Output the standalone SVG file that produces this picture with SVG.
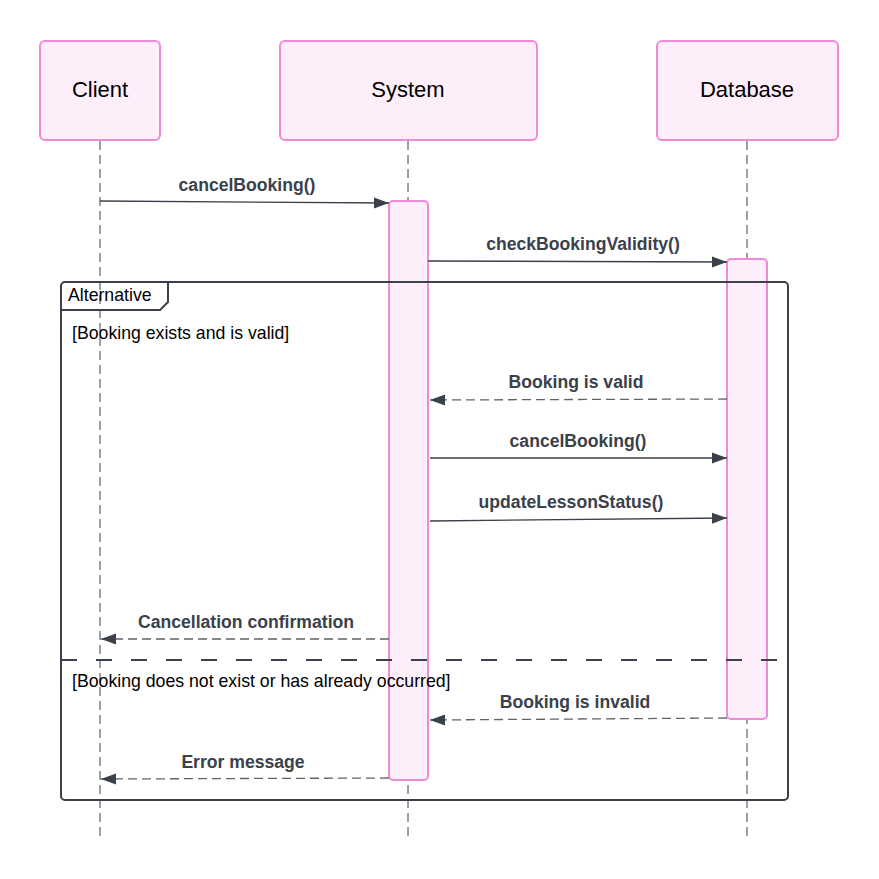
<svg xmlns="http://www.w3.org/2000/svg" width="879" height="879" viewBox="0 0 879 879">
<style>
.bg{fill:#ffffff}
.actor{fill:#fdeef9;stroke:#ee8ad8;stroke-width:2}
.act{fill:#fdeef9;stroke:#ee8ad8;stroke-width:2}
.life{stroke:#3a414a;stroke-width:1;stroke-dasharray:9 5;fill:none}
.title{font-family:"Liberation Sans",Arial,sans-serif;font-size:22px;fill:#000000;text-anchor:middle}
.lbl{font-family:"Liberation Sans",Arial,sans-serif;font-size:17.6px;font-weight:bold;fill:#3a414a;text-anchor:middle}
.guard{font-family:"Liberation Sans",Arial,sans-serif;font-size:17.7px;fill:#000000}
.msg{stroke:#3a414a;stroke-width:1.3;fill:none}
.ret{stroke:#5f646c;stroke-width:1.3;stroke-dasharray:9 5;fill:none}
.frame{fill:none;stroke:#3a414a;stroke-width:2}
.sep{stroke:#3a414a;stroke-width:2;stroke-dasharray:16 19;fill:none}
</style>
<defs>
<marker id="ah" markerUnits="userSpaceOnUse" markerWidth="16" markerHeight="12" refX="15" refY="6" orient="auto">
<path d="M0,0.5 L15,6 L0,11.5 Z" fill="#3a414a"/>
</marker>
</defs>
<rect class="bg" x="0" y="0" width="879" height="879"/>
<g id="lifelines">
<line class="life" x1="100" y1="141" x2="100" y2="840"/>
<line class="life" x1="408" y1="141" x2="408" y2="840"/>
<line class="life" x1="747" y1="141" x2="747" y2="840"/>
</g>
<g id="client">
<rect class="actor" x="40" y="41" width="120" height="99" rx="5"/>
<text class="title" x="100" y="97">Client</text>
</g>
<g id="system">
<rect class="actor" x="280" y="41" width="257" height="99" rx="5"/>
<text class="title" x="408" y="97">System</text>
</g>
<g id="database">
<rect class="actor" x="657" y="41" width="181" height="99" rx="5"/>
<text class="title" x="747" y="97">Database</text>
</g>
<g id="activations">
<rect id="system-activation" class="act" x="389" y="201" width="39" height="579" rx="4"/>
<rect id="database-activation" class="act" x="727" y="259" width="40" height="460" rx="4"/>
</g>
<g id="alt-frame">
<rect class="frame" x="61" y="282" width="727" height="518" rx="4"/>
<path class="frame" d="M61,310 L160,310 L168,302 L168,282"/>
<text class="guard" x="68" y="301">Alternative</text>
<text class="guard" x="72" y="339">[Booking exists and is valid]</text>
<line class="sep" x1="61" y1="660" x2="781" y2="660"/>
<text class="guard" x="72" y="687">[Booking does not exist or has already occurred]</text>
</g>
<g id="connectors">
<line class="msg" x1="100" y1="201" x2="389" y2="203" marker-end="url(#ah)"/>
<text class="lbl" x="247" y="191">cancelBooking()</text>
<line class="msg" x1="428" y1="261" x2="727" y2="262" marker-end="url(#ah)"/>
<text class="lbl" x="583" y="250">checkBookingValidity()</text>
<line class="ret" x1="727" y1="399" x2="430" y2="400" marker-end="url(#ah)"/>
<text class="lbl" x="576" y="388">Booking is valid</text>
<line class="msg" x1="430" y1="458" x2="727" y2="458" marker-end="url(#ah)"/>
<text class="lbl" x="578" y="447">cancelBooking()</text>
<line class="msg" x1="430" y1="521" x2="727" y2="518" marker-end="url(#ah)"/>
<text class="lbl" x="571" y="508">updateLessonStatus()</text>
<line class="ret" x1="389" y1="639" x2="101" y2="639" marker-end="url(#ah)"/>
<text class="lbl" x="246" y="628">Cancellation confirmation</text>
<line class="ret" x1="727" y1="718" x2="430" y2="720" marker-end="url(#ah)"/>
<text class="lbl" x="575" y="708">Booking is invalid</text>
<line class="ret" x1="389" y1="778" x2="101" y2="779" marker-end="url(#ah)"/>
<text class="lbl" x="243" y="768">Error message</text>
</g>
</svg>
